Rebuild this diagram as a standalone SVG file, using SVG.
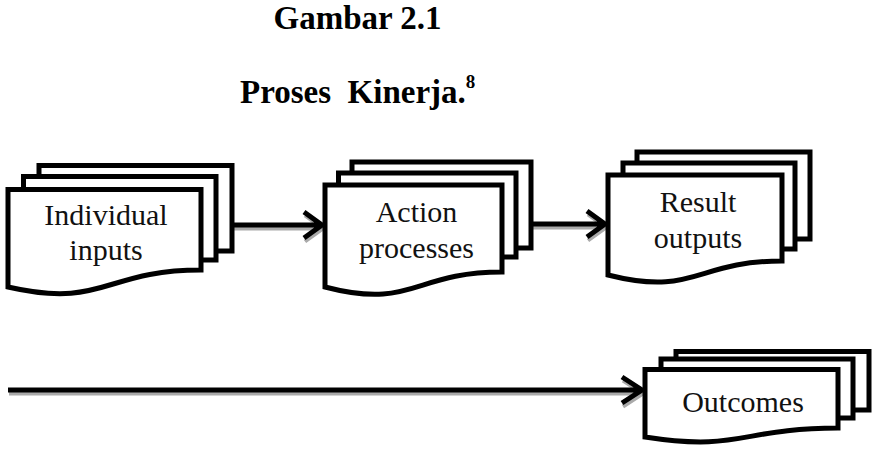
<svg xmlns="http://www.w3.org/2000/svg" width="886" height="458" viewBox="0 0 886 458">
<style>
.sheet{fill:#fff;stroke:#000;stroke-width:5;stroke-linejoin:miter}
.lbl{font-size:30px;fill:#111;text-anchor:middle}
.ttl{font-size:33px;font-weight:bold;fill:#000}
.ln{fill:none;stroke:#000;stroke-width:5;stroke-linejoin:miter}
.sh{fill:none;stroke:#aaa;stroke-width:4;stroke-linejoin:miter}
</style>
<rect width="886" height="458" fill="#fff"/>
<g id="title" font-family="Liberation Serif, DejaVu Serif, serif">
<text class="ttl" x="357.5" y="29" text-anchor="middle">Gambar 2.1</text>
<text class="ttl" x="240" y="103" xml:space="preserve">Proses  Kinerja.<tspan font-size="19" dy="-15">8</tspan></text>
</g>
<g id="connectors">
<g transform="translate(1,3.5)">
<path class="sh" d="M232,225 H320 M304,212 L322,225 L304,238"/>
<path class="sh" d="M531,224 H603 M587,211 L605,224 L587,237"/>
<path class="sh" d="M8,390 H640 M622,377 L642,390 L622,403"/>
</g>
<path class="ln" d="M232,225 H320 M304,212 L322,225 L304,238"/>
<path class="ln" d="M531,224 H603 M587,211 L605,224 L587,237"/>
<path class="ln" d="M8,390 H640 M622,377 L642,390 L622,403"/>
</g>
<g id="node-individual-inputs" font-family="Liberation Serif, DejaVu Serif, serif">
<rect class="sheet" x="39" y="165.5" width="193" height="85.5"/>
<rect class="sheet" x="23.5" y="176.5" width="192.5" height="83.5"/>
<path class="sheet" d="M8,189.5 H201 V270 C104,270 104,309 8,287 Z"/>
<text class="lbl" x="106" y="225">Individual</text>
<text class="lbl" x="106" y="260">inputs</text>
</g>
<g id="node-action-processes" font-family="Liberation Serif, DejaVu Serif, serif">
<rect class="sheet" x="352" y="162" width="179" height="86"/>
<rect class="sheet" x="338.5" y="173" width="177.5" height="84"/>
<path class="sheet" d="M325,185 H502 V272 C413,272 413,310 325,287 Z"/>
<text class="lbl" x="416.5" y="222">Action</text>
<text class="lbl" x="416.5" y="258">processes</text>
</g>
<g id="node-result-outputs" font-family="Liberation Serif, DejaVu Serif, serif">
<rect class="sheet" x="637" y="152" width="173" height="87"/>
<rect class="sheet" x="623" y="163" width="172" height="86"/>
<path class="sheet" d="M608,175 H782 V261 C695,261 695,297 608,275 Z"/>
<text class="lbl" x="698" y="212">Result</text>
<text class="lbl" x="698" y="248">outputs</text>
</g>
<g id="node-outcomes" font-family="Liberation Serif, DejaVu Serif, serif">
<rect class="sheet" x="676" y="351.5" width="193" height="58.5"/>
<rect class="sheet" x="661" y="359" width="192" height="59"/>
<path class="sheet" d="M645,369.5 H838 V428 C741,428 741,452 645,437 Z"/>
<text class="lbl" x="743" y="412">Outcomes</text>
</g>
</svg>
